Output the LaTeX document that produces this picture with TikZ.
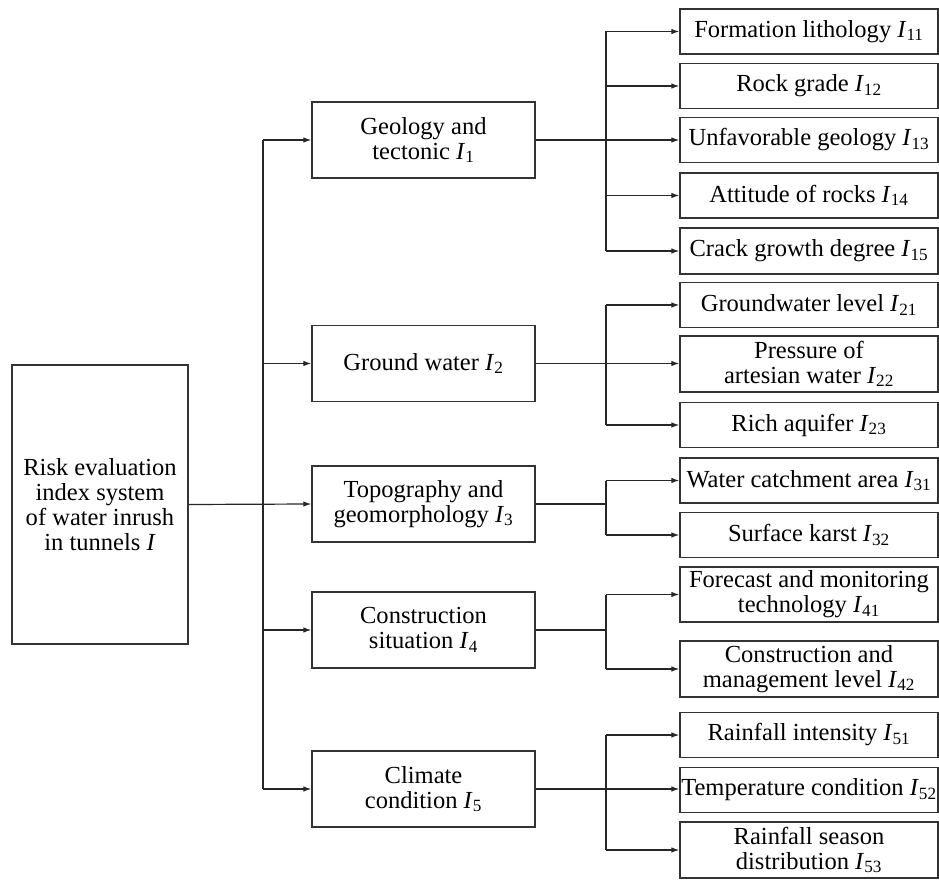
\documentclass[tikz,border=0pt]{standalone}
\usepackage{fontspec}
\setmainfont{Liberation Serif}
\usepackage{tikz}
\usetikzlibrary{arrows.meta}
\newcommand{\Ix}[1]{\textit{I}\textsubscript{#1}}
\tikzset{
	>={Latex[length=6pt,width=4.2pt]},
	conn/.style={black!85, line width=0.9pt},
	basebox/.style={draw=black!80, line width=1.1pt, fill=white, inner sep=0pt, align=center,
		font=\fontsize{18.4}{18.6}\selectfont},
	mainbox/.style={basebox, minimum width=132pt, minimum height=209.25pt},
	subbox/.style={basebox, minimum width=167.25pt, minimum height=57pt},
	leafbox/.style={basebox, minimum width=193.5pt, minimum height=#1},
	leafbox/.default=33.5pt,
}
\begin{document}
\begin{tikzpicture}[x=0.75pt, y=-0.75pt]
			\useasboundingbox (0,0) rectangle (939,880);
			\clip (0,0) rectangle (939,880);
			\fill[white] (0,0) rectangle (939,880);
			
			% root and first level
			\node[mainbox] (root) at (100,504.5) {Risk evaluation\\index system\\of water inrush\\in tunnels \textit{I}};
			\node[subbox] (geo) at (423.5,140) {Geology and\\tectonic \Ix{1}};
			\node[subbox] (gw) at (423.5,363.5) {Ground water \Ix{2}};
			\node[subbox] (topo) at (423.5,504) {Topography and\\geomorphology \Ix{3}};
			\node[subbox] (cons) at (423.5,630) {Construction\\situation \Ix{4}};
			\node[subbox] (clim) at (423.5,789) {Climate\\condition \Ix{5}};
			
			% second level
			\node[leafbox=33.75pt] (l11) at (809,31.5) {Formation lithology \Ix{11}};
			\node[leafbox] (l12) at (809,86) {Rock grade \Ix{12}};
			\node[leafbox] (l13) at (809,140) {Unfavorable geology \Ix{13}};
			\node[leafbox=33.75pt] (l14) at (809,195.5) {Attitude of rocks \Ix{14}};
			\node[leafbox=34.5pt] (l15) at (809,251) {Crack growth degree \Ix{15}};
			\node[leafbox] (l21) at (809,305) {Groundwater level \Ix{21}};
			\node[leafbox=42pt] (l22) at (809,364) {Pressure of\\artesian water \Ix{22}};
			\node[leafbox] (l23) at (809,425) {Rich aquifer \Ix{23}};
			\node[leafbox=33.75pt] (l31) at (809,480.5) {Water catchment area \Ix{31}};
			\node[leafbox] (l32) at (809,535) {Surface karst \Ix{32}};
			\node[leafbox=41.25pt] (l41) at (809,594.5) {Forecast and monitoring\\technology \Ix{41}};
			\node[leafbox=42pt] (l42) at (809,669) {Construction and\\management level \Ix{42}};
			\node[leafbox] (l51) at (809,735) {Rainfall intensity \Ix{51}};
			\node[leafbox] (l52) at (809,790) {Temperature condition \Ix{52}};
			\node[leafbox=42pt] (l53) at (809,850) {Rainfall season\\distribution \Ix{53}};
			
			% trunk from the root
			\coordinate (trunk) at (263,0);
			\draw[conn] (trunk |- geo.west) -- (trunk |- clim.west);
			\draw[conn,->] (root.east) -- (topo.west);
			\foreach \m in {geo,gw,cons,clim}
				\draw[conn,->] (trunk |- \m.west) -- (\m.west);
			
			% branches to the indexes
			\coordinate (fork) at (606,0);
			\draw[conn,->] (geo.east) -- (geo.east -| l13.west);
			\draw[conn] (fork |- l11.west) -- (fork |- l15.west);
			\foreach \l in {l11,l12,l14,l15}
				\draw[conn,->] (fork |- \l.west) -- (\l.west);
			
			\draw[conn,->] (gw.east) -- (gw.east -| l22.west);
			\draw[conn] (fork |- l21.west) -- (fork |- l23.west);
			\foreach \l in {l21,l23}
				\draw[conn,->] (fork |- \l.west) -- (\l.west);
			
			\draw[conn] (topo.east) -- (fork |- topo.east);
			\draw[conn] (fork |- l31.west) -- (fork |- l32.west);
			\foreach \l in {l31,l32}
				\draw[conn,->] (fork |- \l.west) -- (\l.west);
			
			\draw[conn] (cons.east) -- (fork |- cons.east);
			\draw[conn] (fork |- l41.west) -- (fork |- l42.west);
			\foreach \l in {l41,l42}
				\draw[conn,->] (fork |- \l.west) -- (\l.west);
			
			\draw[conn,->] (clim.east) -- (clim.east -| l52.west);
			\draw[conn] (fork |- l51.west) -- (fork |- l53.west);
			\foreach \l in {l51,l53}
				\draw[conn,->] (fork |- \l.west) -- (\l.west);
		\end{tikzpicture}
\end{document}
